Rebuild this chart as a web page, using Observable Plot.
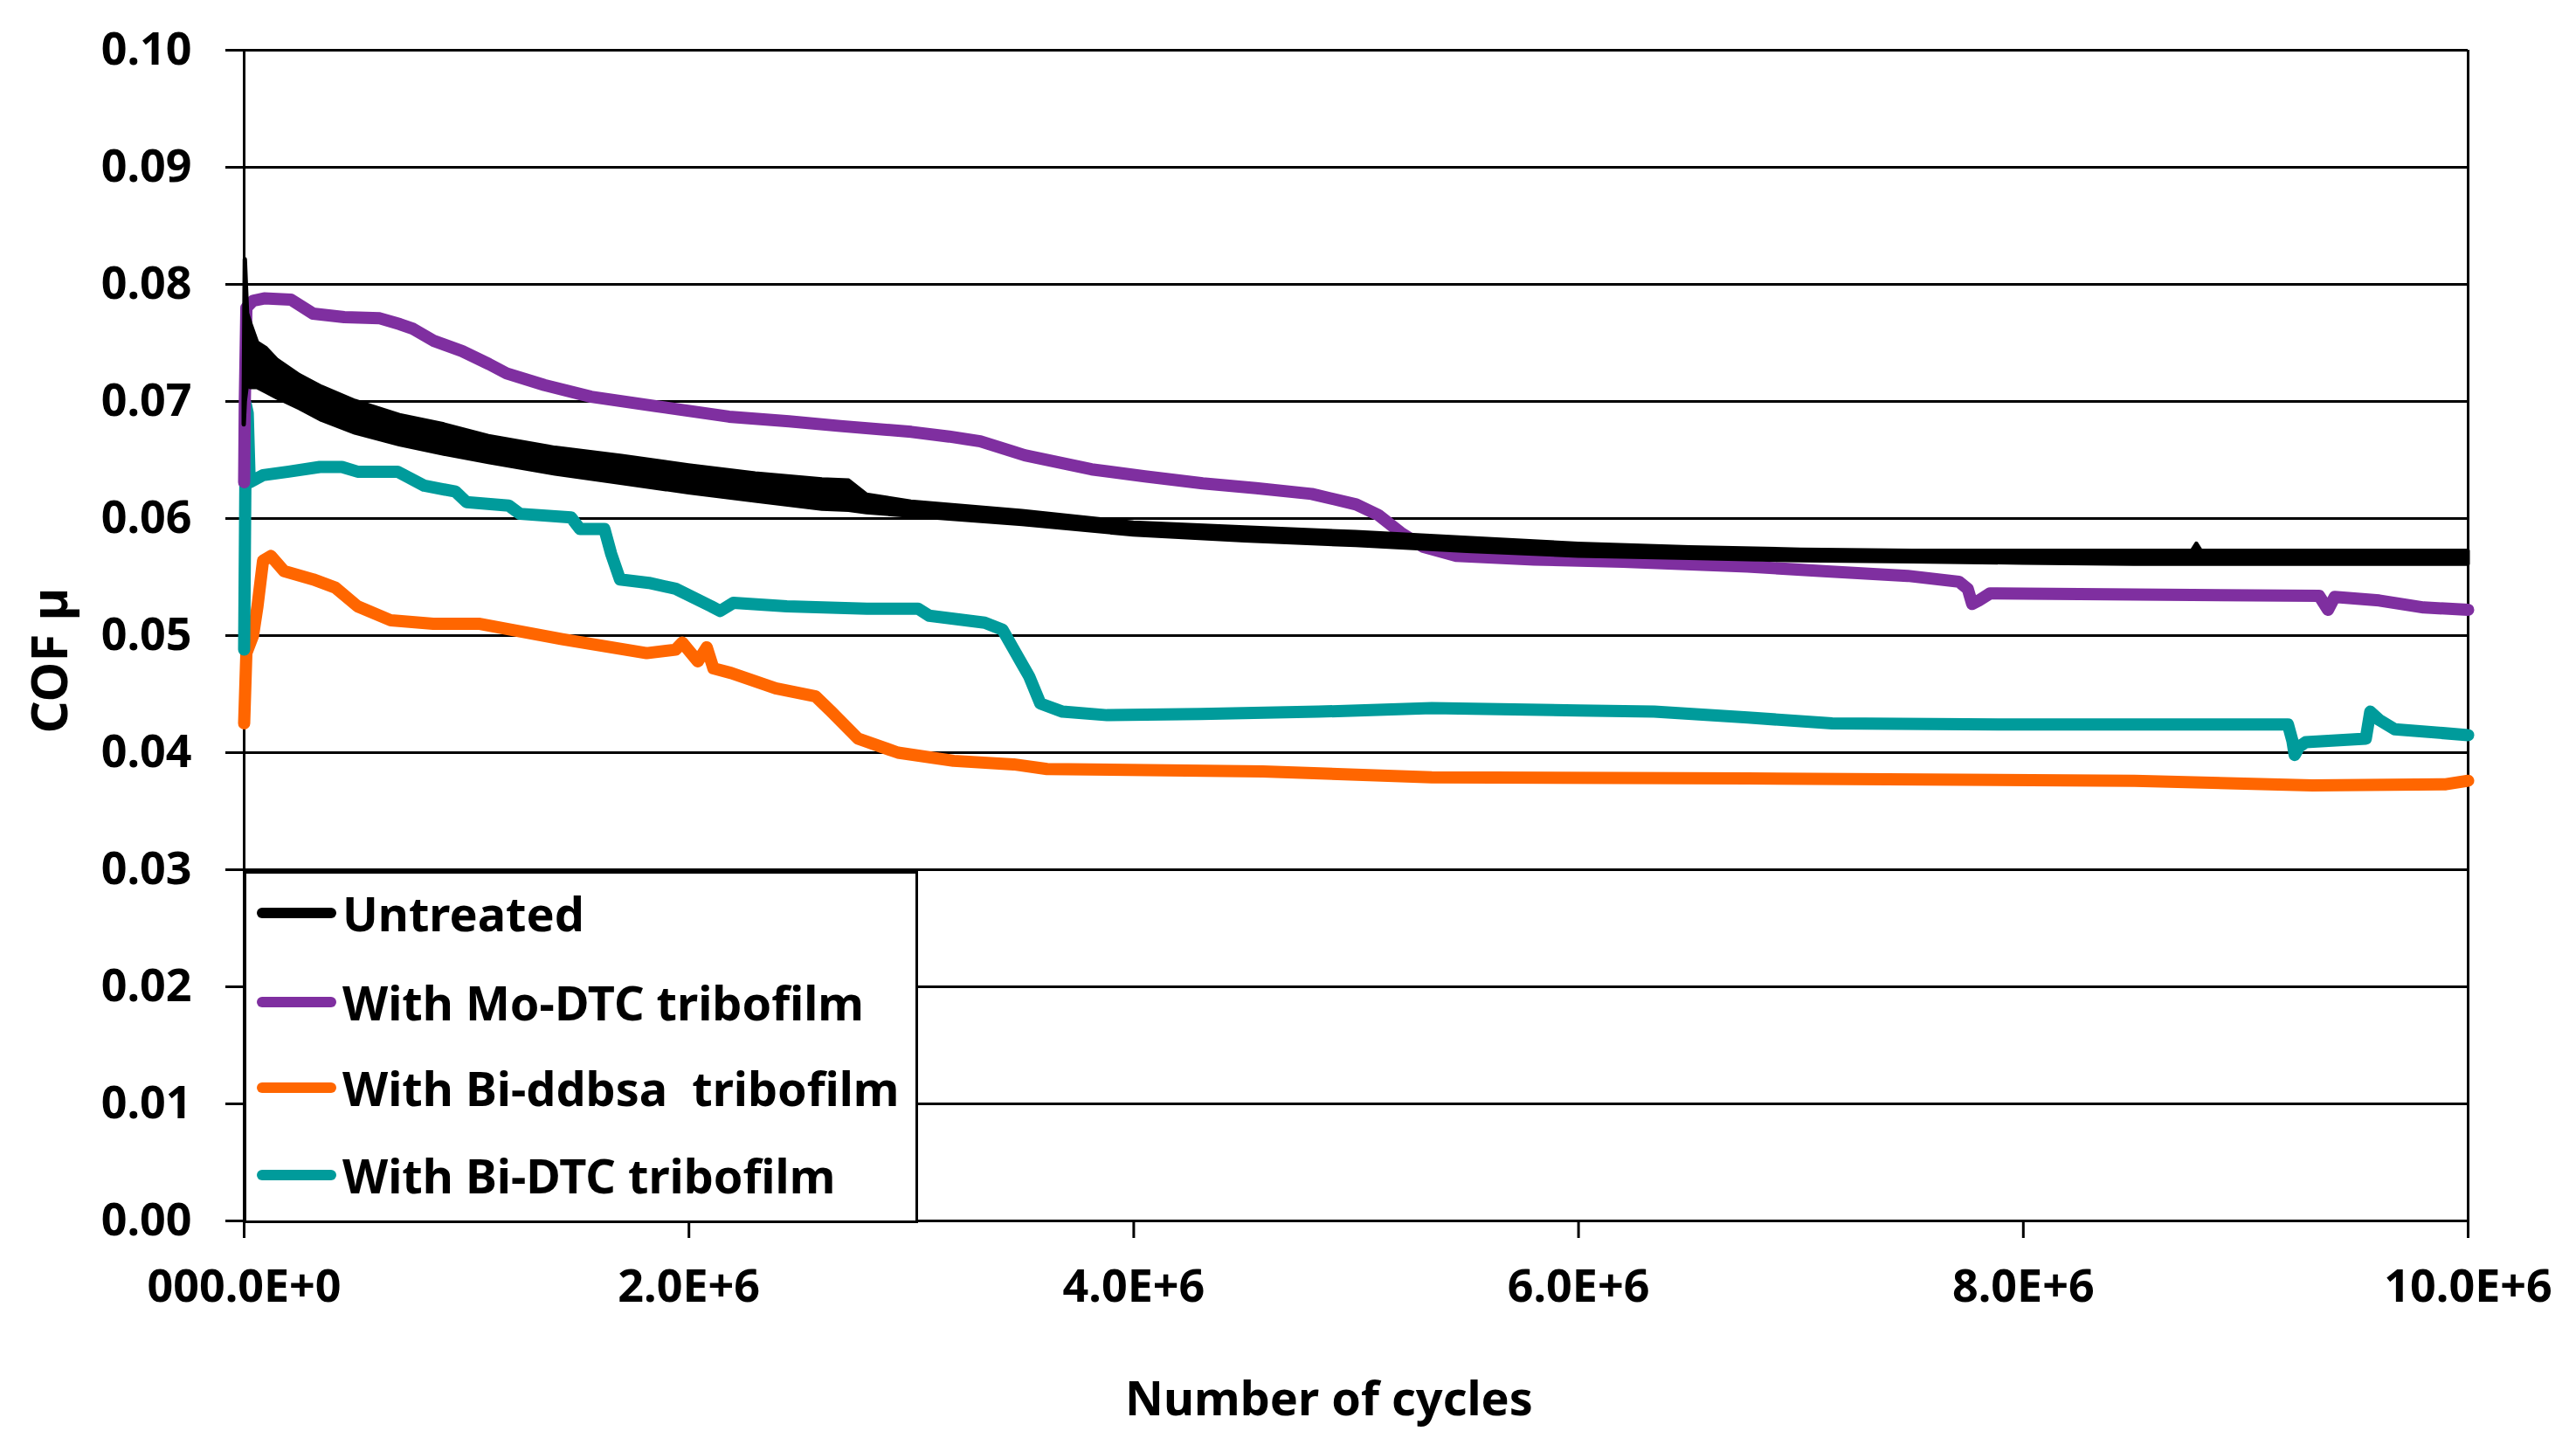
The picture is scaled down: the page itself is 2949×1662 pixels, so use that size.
<!DOCTYPE html>
<html>
<head>
<meta charset="utf-8">
<script src="https://cdn.jsdelivr.net/npm/d3@7"></script>
<script src="https://cdn.jsdelivr.net/npm/@observablehq/plot@0.6"></script>
<style>
  html, body { margin: 0; padding: 0; background: #fff; }
  #wrap { position: relative; width: 2949px; height: 1662px; font-family: "Noto Sans", sans-serif; font-weight: bold; }
  #legend { position: absolute; left: 279px; top: 997px; width: 766px; height: 397px; border: 3px solid #000; background: #fff; box-sizing: content-box; }
  .item { position: absolute; left: 12px; height: 60px; display: flex; align-items: center; }
  .sw { width: 91px; height: 12px; border-radius: 6px; margin-right: 7px; }
  .lab { font-size: 54px; white-space: pre; color: #000; line-height: 60px; }
</style>
</head>
<body>
<div id="wrap"><div id="chart"></div><div id="legend"></div></div>
<script>
// ---- data (cycles in millions, COF) ----
const seriesNames = ["Untreated", "With Mo-DTC tribofilm", "With Bi-ddbsa  tribofilm", "With Bi-DTC tribofilm"];
const seriesColors = ["#000000", "#7f2fa0", "#ff6600", "#009b9b"];

const xTicks = [0, 2, 4, 6, 8, 10];
const xTickLabels = ["000.0E+0", "2.0E+6", "4.0E+6", "6.0E+6", "8.0E+6", "10.0E+6"];
const yTicks = [0, 0.01, 0.02, 0.03, 0.04, 0.05, 0.06, 0.07, 0.08, 0.09, 0.10];
const yTickLabels = ["0.00", "0.01", "0.02", "0.03", "0.04", "0.05", "0.06", "0.07", "0.08", "0.09", "0.10"];

// Untreated: noisy band (upper / lower envelope)
const untreatedX  = [0, 0.005, 0.015, 0.03, 0.06, 0.10, 0.15, 0.25, 0.35, 0.50, 0.70, 0.90, 1.10, 1.40, 1.70, 2.00, 2.30, 2.60, 2.72, 2.80, 3.00, 3.50, 4.00, 4.50, 5.00, 5.50, 6.00, 6.50, 7.00, 7.50, 8.00, 8.50, 8.76, 8.78, 8.80, 9.00, 9.50, 10.0];
const untreatedHi = [0.0700, 0.0821, 0.0775, 0.0766, 0.0750, 0.0745, 0.0735, 0.0722, 0.0712, 0.0700, 0.0688, 0.0680, 0.0670, 0.0660, 0.0653, 0.0645, 0.0638, 0.0633, 0.0632, 0.0620, 0.0614, 0.0606, 0.0596, 0.0592, 0.0588, 0.0583, 0.0578, 0.0575, 0.0573, 0.0572, 0.0572, 0.0572, 0.0572, 0.0578, 0.0572, 0.0572, 0.0572, 0.0572];
const untreatedLo = [0.0680, 0.0700, 0.0715, 0.0712, 0.0712, 0.0708, 0.0703, 0.0694, 0.0684, 0.0673, 0.0663, 0.0655, 0.0648, 0.0638, 0.0630, 0.0622, 0.0615, 0.0608, 0.0607, 0.0605, 0.0602, 0.0595, 0.0586, 0.0581, 0.0577, 0.0572, 0.0568, 0.0566, 0.0564, 0.0563, 0.0562, 0.0561, 0.0561, 0.0561, 0.0561, 0.0561, 0.0561, 0.0561];

const moX = [0, 0.003, 0.01, 0.04, 0.09, 0.21, 0.31, 0.45, 0.61, 0.70, 0.76, 0.85, 0.98, 1.10, 1.18, 1.35, 1.56, 1.85, 2.18, 2.45, 2.68, 3.00, 3.17, 3.31, 3.51, 3.81, 4.05, 4.31, 4.55, 4.80, 5.00, 5.10, 5.20, 5.30, 5.45, 5.80, 6.20, 6.76, 7.10, 7.48, 7.71, 7.75, 7.77, 7.80, 7.85, 8.50, 9.33, 9.37, 9.40, 9.60, 9.80, 10.0];
const moY = [0.0631, 0.0700, 0.0780, 0.0786, 0.0788, 0.0787, 0.0775, 0.0772, 0.0771, 0.0766, 0.0762, 0.0752, 0.0743, 0.0732, 0.0724, 0.0714, 0.0704, 0.0696, 0.0687, 0.0683, 0.0679, 0.0674, 0.0670, 0.0666, 0.0654, 0.0642, 0.0636, 0.0630, 0.0626, 0.0621, 0.0612, 0.0603, 0.0588, 0.0576, 0.0568, 0.0565, 0.0563, 0.0559, 0.0555, 0.0551, 0.0546, 0.0540, 0.0527, 0.0530, 0.0536, 0.0535, 0.0534, 0.0522, 0.0533, 0.0530, 0.0524, 0.0522];

const ddbsaX = [0, 0.010, 0.040, 0.060, 0.085, 0.12, 0.18, 0.31, 0.41, 0.51, 0.66, 0.85, 1.06, 1.43, 1.81, 1.94, 1.97, 2.04, 2.08, 2.11, 2.19, 2.39, 2.57, 2.64, 2.76, 2.94, 3.19, 3.46, 3.61, 4.58, 5.34, 6.76, 8.50, 9.30, 9.90, 10.0];
const ddbsaY = [0.0425, 0.0485, 0.0500, 0.0525, 0.0564, 0.0568, 0.0555, 0.0548, 0.0541, 0.0525, 0.0513, 0.0510, 0.0510, 0.0497, 0.0485, 0.0488, 0.0494, 0.0478, 0.0490, 0.0472, 0.0468, 0.0455, 0.0448, 0.0435, 0.0412, 0.0400, 0.0393, 0.0390, 0.0386, 0.0384, 0.0379, 0.0378, 0.0376, 0.0372, 0.0373, 0.0376];

const biX = [0, 0.008, 0.016, 0.025, 0.085, 0.20, 0.34, 0.44, 0.51, 0.69, 0.81, 0.95, 1.00, 1.19, 1.24, 1.47, 1.51, 1.62, 1.65, 1.69, 1.82, 1.94, 2.10, 2.14, 2.20, 2.44, 2.80, 3.03, 3.08, 3.33, 3.41, 3.47, 3.53, 3.58, 3.68, 3.88, 4.30, 4.83, 5.34, 6.00, 6.34, 6.76, 7.14, 8.00, 9.19, 9.21, 9.22, 9.24, 9.27, 9.54, 9.56, 9.60, 9.67, 10.0];
const biY = [0.0488, 0.0697, 0.0690, 0.0631, 0.0637, 0.0640, 0.0644, 0.0644, 0.0640, 0.0640, 0.0628, 0.0623, 0.0614, 0.0611, 0.0604, 0.0601, 0.0591, 0.0591, 0.0570, 0.0548, 0.0545, 0.0540, 0.0525, 0.0521, 0.0528, 0.0525, 0.0523, 0.0523, 0.0517, 0.0511, 0.0505, 0.0485, 0.0465, 0.0442, 0.0435, 0.0432, 0.0433, 0.0435, 0.0438, 0.0436, 0.0435, 0.0430, 0.0425, 0.0424, 0.0424, 0.0410, 0.0398, 0.0405, 0.0409, 0.0412, 0.0435, 0.0428, 0.0420, 0.0415];

// ---- tables ----
const toRows = (xs, ys) => xs.map((x, i) => ({x: x * 1e6, y: ys[i]}));
const untreated = untreatedX.map((x, i) => ({x: x * 1e6, hi: untreatedHi[i], lo: untreatedLo[i]}));
const mo = toRows(moX, moY);
const ddbsa = toRows(ddbsaX, ddbsaY);
const bi = toRows(biX, biY);

const xTickValues = xTicks.map(d => d * 1e6);

const chart = Plot.plot({
  width: 2949,
  height: 1662,
  marginLeft: 279,
  marginRight: 124,
  marginTop: 57,
  marginBottom: 265,
  style: {fontFamily: "'Noto Sans', sans-serif", fontWeight: "bold", fontSize: "52px", color: "#000", background: "#fff"},
  x: {domain: [0, 10e6]},
  y: {domain: [0, 0.10]},
  marks: [
    Plot.gridY(yTicks, {stroke: "#000", strokeOpacity: 1, strokeWidth: 3}),
    Plot.axisY(yTicks, {tickSize: 21, tickPadding: 39, strokeWidth: 3, fontSize: 52, fontWeight: "bold",
      tickFormat: (d) => yTickLabels[yTicks.indexOf(d)], label: null}),
    Plot.axisX(xTickValues, {tickSize: 20, tickPadding: 36, strokeWidth: 3, fontSize: 52, fontWeight: "bold",
      tickFormat: (d) => xTickLabels[xTickValues.indexOf(d)], label: null}),
    Plot.ruleX([0, 10e6], {stroke: "#000", strokeWidth: 3}),
    Plot.line(ddbsa, {x: "x", y: "y", stroke: seriesColors[2], strokeWidth: 14, strokeLinejoin: "round"}),
    Plot.line(bi, {x: "x", y: "y", stroke: seriesColors[3], strokeWidth: 14, strokeLinejoin: "round"}),
    Plot.line(mo, {x: "x", y: "y", stroke: seriesColors[1], strokeWidth: 14, strokeLinejoin: "round"}),
    Plot.areaY(untreated, {x: "x", y1: "lo", y2: "hi", fill: seriesColors[0], stroke: seriesColors[0], strokeWidth: 5}),
    Plot.text(["Number of cycles"], {frameAnchor: "bottom", dy: 222, dx: -31, fontSize: 54, fontWeight: "bold", fill: "#000"}),
    Plot.text(["COF µ"], {frameAnchor: "left", rotate: -90, dx: -221, dy: 112, fontSize: 58, fontWeight: "bold", fill: "#000"})
  ]
});
document.getElementById("chart").appendChild(chart);

// ---- legend ----
const legend = document.getElementById("legend");
const centers = [45, 147, 245, 345];
seriesNames.forEach((name, i) => {
  const item = document.createElement("div");
  item.className = "item";
  item.style.top = (centers[i] - 30) + "px";
  const sw = document.createElement("div");
  sw.className = "sw";
  sw.style.background = seriesColors[i];
  const lab = document.createElement("span");
  lab.className = "lab";
  lab.textContent = name;
  item.appendChild(sw);
  item.appendChild(lab);
  legend.appendChild(item);
});
</script>
</body>
</html>
